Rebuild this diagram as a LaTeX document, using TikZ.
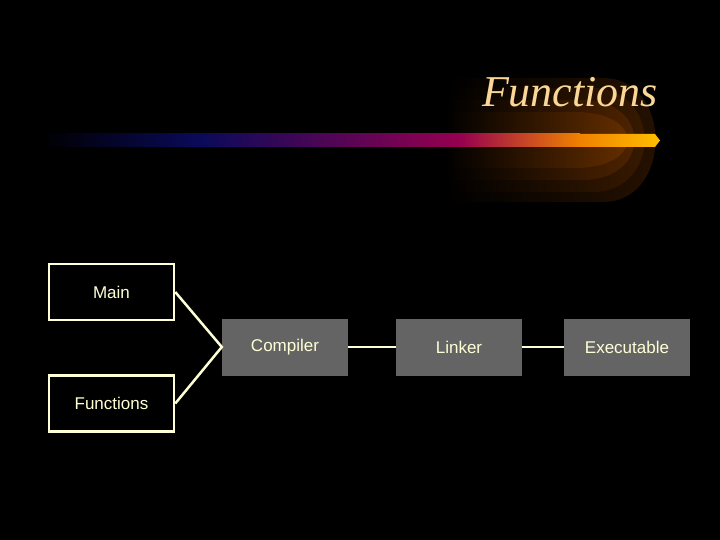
\documentclass[tikz,border=0pt]{standalone}
\usepackage{fontspec}
\setmainfont{Liberation Sans}
\newfontfamily\titlefont{Liberation Serif}
\definecolor{cream}{RGB}{255,255,215}
\definecolor{boxgray}{RGB}{100,100,100}
\definecolor{peach}{RGB}{250,215,150}
\begin{document}
\begin{tikzpicture}[x=1pt,y=-1pt,
  wbox/.style={draw=cream,line width=2.5pt,fill=black,minimum width=125pt,minimum height=56pt,text=cream,font=\fontsize{17}{20}\selectfont},
  gbox/.style={fill=boxgray,minimum width=126pt,minimum height=57pt,text=cream,font=\fontsize{17}{20}\selectfont},
  conn/.style={draw=cream,line width=2.5pt}]
\fill[black] (0,0) rectangle (720,540);
\useasboundingbox (0,0) rectangle (720,540);
% swoosh layers
\foreach \h/\w/\c in {62/233/40,52/222/60,40/212/85,28/205/110}{
  \shade[left color=black,right color={rgb,255:red,\c;green,\fpeval{round(\c*0.45)};blue,0}]
    (445,140-\h) -- (440+\w-70,140-\h) .. controls (440+\w,140-\h) and (440+\w,140+\h) .. (440+\w-70,140+\h) -- (445,140+\h) -- cycle;
}
% bar
\shade[left color=black,right color={rgb,255:red,10;green,10;blue,90}] (40,134) rectangle (200,147);
\shade[left color={rgb,255:red,10;green,10;blue,90},right color={rgb,255:red,150;green,0;blue,80}] (200,134) rectangle (460,147);
\shade[left color={rgb,255:red,150;green,0;blue,80},right color={rgb,255:red,240;green,130;blue,0}] (460,134) rectangle (580,147);
\shade[left color={rgb,255:red,240;green,130;blue,0},right color={rgb,255:red,255;green,190;blue,0}] (580,134) -- (655,134) -- (660,140.5) -- (655,147) -- (580,147) -- cycle;
\node[text=peach,font=\titlefont\itshape\fontsize{44}{48}\selectfont] (title) at (570,92) {Functions};
\node[wbox] (main) at (111.5,292) {Main};
\node[wbox] (funcs) at (111.5,403.5) {Functions};
\node[gbox] (comp) at (285,347) {Compiler};
\node[gbox] (link) at (459,347) {Linker};
\node[gbox] (exe) at (627,347) {Executable};
\draw[conn] (main.east) -- (comp.west) -- (funcs.east);
\draw[conn] (comp) -- (link);
\draw[conn] (link) -- (exe);
\end{tikzpicture}
\end{document}
